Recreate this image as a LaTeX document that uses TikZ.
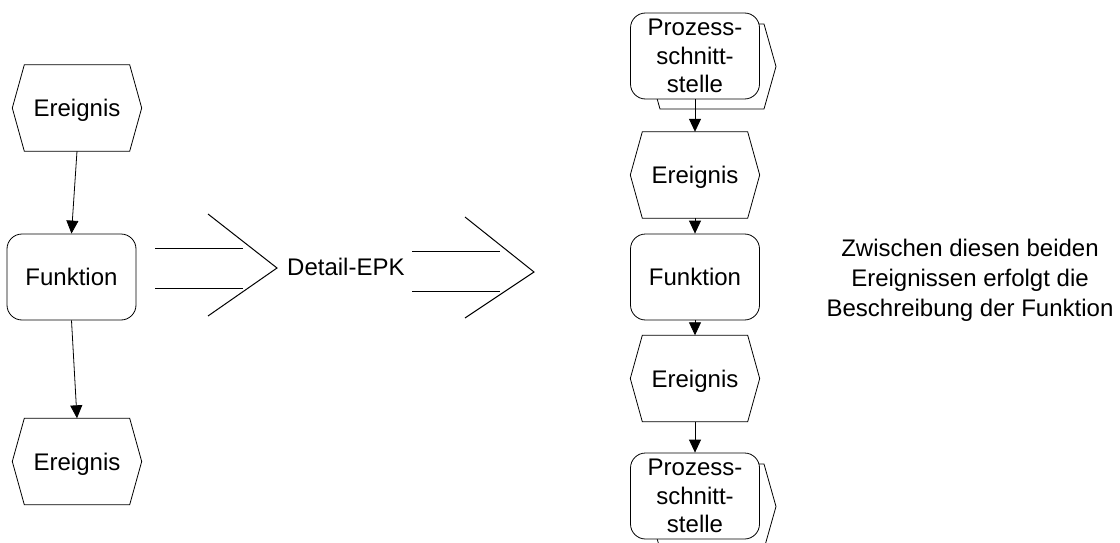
\documentclass[tikz,border=0pt]{standalone}
\usepackage{fontspec}
\setmainfont{Liberation Sans}
\usetikzlibrary{arrows.meta,calc,backgrounds}

\tikzset{
  every node/.style={font=\fontsize{24}{29}\selectfont},
  shp/.style={draw=black,line width=0.8pt},
  evnode/.style={minimum width=129pt,minimum height=86pt,inner sep=0pt,
    text height=17.2pt,text depth=0pt},
  fnnode/.style={shp,fill=white,rounded corners=15pt,minimum width=129pt,
    minimum height=86pt,inner sep=0pt,text height=17.2pt,text depth=0pt},
  pinode/.style={shp,fill=white,rounded corners=15pt,minimum width=129pt,
    minimum height=86pt,inner sep=0pt,align=center,
    font=\fontsize{24}{28.5}\selectfont},
  flow/.style={line width=0.8pt,-{Triangle[length=13pt,width=12pt]}},
  bigarrow/.style={line width=1pt},
}

% hexagonal event outline around a named node
\newcommand\evoutline[1]{%
  \draw[shp] (#1.west) -- ([xshift=12pt]#1.north west) -- ([xshift=-12pt]#1.north east)
    -- (#1.east) -- ([xshift=-12pt]#1.south east) -- ([xshift=12pt]#1.south west) -- cycle;}

% event outline lying behind a process interface box
\newcommand\backhex[1]{%
  \begin{scope}[on background layer]
    \draw[shp,fill=white] ($(#1.center)+(-47,10.5)$) -- ++(12,-42.5) -- ++(104,0)
      -- ++(12,42.5) -- ++(-12,42.5) -- ++(-104,0) -- cycle;
  \end{scope}}

\begin{document}
\begin{tikzpicture}[x=1pt,y=-1pt]
  \useasboundingbox (0,0) rectangle (1120,543);

  % overview chain
  \node[evnode] (ev1) at (77,108) {Ereignis};
  \evoutline{ev1}
  \node[fnnode] (fn1) at (71.5,277) {Funktion};
  \node[evnode] (ev2) at (77,461.5) {Ereignis};
  \evoutline{ev2}
  \draw[flow] (ev1.south) -- (fn1.north);
  \draw[flow] (fn1.south) -- (ev2.north);

  % refinement arrows
  \draw[bigarrow] (155,248) -- (243,248);
  \draw[bigarrow] (155,288) -- (243,288);
  \draw[bigarrow] (208,214) -- (277,268) -- (208,316);
  \node[anchor=base west,inner sep=0pt] (lbl) at (287,275) {Detail-EPK};
  \draw[bigarrow] (412,251) -- (500,251);
  \draw[bigarrow] (412,291) -- (500,291);
  \draw[bigarrow] (465,217) -- (534,272) -- (465,318);

  % detailed chain
  \node[pinode] (pi1) at (695,56) {Prozess-\\schnitt-\\stelle};
  \backhex{pi1}
  \node[evnode] (ev3) at (695,175) {Ereignis};
  \evoutline{ev3}
  \node[fnnode] (fn2) at (695,277) {Funktion};
  \node[evnode] (ev4) at (695,378.5) {Ereignis};
  \evoutline{ev4}
  \node[pinode] (pi2) at (695,496) {Prozess-\\schnitt-\\stelle};
  \backhex{pi2}
  \draw[flow] (pi1.south) -- (ev3.north);
  \draw[flow] (ev3.south) -- (fn2.north);
  \draw[flow] (fn2.south) -- (ev4.north);
  \draw[flow] (ev4.south) -- (pi2.north);

  \node[align=center,font=\fontsize{24}{30}\selectfont] (note) at (970,280)
    {Zwischen diesen beiden\\Ereignissen erfolgt die\\Beschreibung der Funktion};
\end{tikzpicture}
\end{document}
